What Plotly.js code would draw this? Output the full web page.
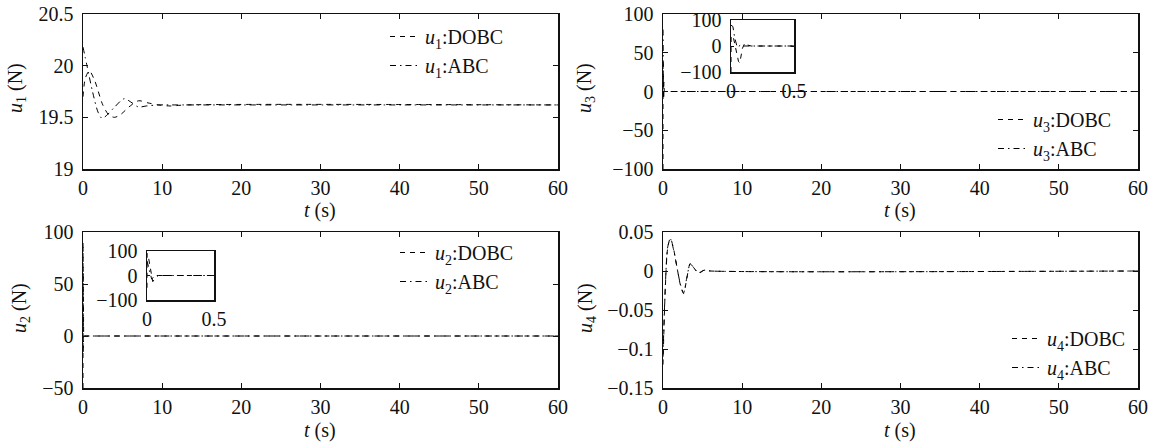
<!DOCTYPE html>
<html>
<head>
<meta charset="utf-8">
<script src="https://cdn.plot.ly/plotly-3.0.1.min.js"></script>
<style>html,body{margin:0;padding:0;background:#fff;}#chart{width:1158px;height:442px;}</style>
</head>
<body>
<div id="chart"></div>
<script>
// ---- data ----
const u1_dobc_t = [0, 0.3, 0.8, 1.5, 2.5, 3.3, 4.0, 4.8, 5.8, 7.0, 8.2, 9.5, 11, 13, 60];
const u1_dobc_v = [19.70, 19.88, 19.95, 19.85, 19.62, 19.52, 19.50, 19.53, 19.60, 19.66, 19.64, 19.62, 19.61, 19.62, 19.62];
const u1_abc_t  = [0, 0.5, 1.2, 1.9, 2.4, 3.0, 4.0, 5.2, 6.2, 7.0, 8.0, 9.5, 11, 60];
const u1_abc_v  = [20.18, 20.00, 19.75, 19.55, 19.49, 19.52, 19.60, 19.68, 19.64, 19.60, 19.61, 19.62, 19.62, 19.62];

const u3_dobc_t = [0, 0.001, 0.02, 0.04, 0.06, 0.07, 0.09, 0.11, 0.13, 0.16, 0.5, 60];
const u3_dobc_v = [-100, 40, 30, -20, -60, -65, -10, 12, 4, 0, 0, 0];
const u3_abc_t  = [0, 0.015, 0.03, 0.05, 0.08, 0.1, 0.5, 60];
const u3_abc_v  = [80, 75, 30, -5, 5, 0, 0, 0];

const u2_dobc_t = [0, 0.001, 0.01, 0.028, 0.043, 0.06, 0.085, 0.5, 60];
const u2_dobc_v = [-50, 90, 77, 22, -25, -12, 0, 0, 0];
const u2_abc_t  = [0, 0.01, 0.02, 0.035, 0.05, 0.07, 0.5, 60];
const u2_abc_v  = [60, 40, 10, -15, -5, 0, 0, 0];

const u4_dobc_t = [0, 0.3, 0.6, 0.93, 1.3, 1.85, 2.2, 2.6, 3.0, 3.45, 3.9, 4.5, 5.2, 6, 60];
const u4_dobc_v = [-0.12, -0.02, 0.03, 0.042, 0.03, 0, -0.018, -0.029, -0.01, 0.0098, 0.004, -0.003, 0.001, 0, 0];
const u4_abc_t  = [0, 0.3, 0.6, 0.93, 1.3, 1.85, 2.2, 2.6, 3.0, 3.45, 3.9, 4.5, 5.2, 6, 60];
const u4_abc_v  = [-0.11, -0.018, 0.031, 0.041, 0.029, 0, -0.017, -0.028, -0.009, 0.009, 0.004, -0.002, 0.001, 0, 0];

const xTicks = [0, 10, 20, 30, 40, 50, 60];
const insetXTicks = [0, 0.5];
const insetYTicks = [-100, 0, 100];

// ---- styling ----
const W = 1158, H = 442;
const FONT = 'Liberation Serif';
const px = x => x / W;
const py = y => 1 - y / H;
const DASH = '5px,5px';
const DASHDOT = '6px,4px,1.5px,4px';

function line(dash) { return {color: '#000', width: 1, dash: dash}; }

const traces = [];
function addPair(n, xa, ya, dt, dv, at, av, legendName, shape) {
  traces.push({x: dt, y: dv, xaxis: xa, yaxis: ya, mode: 'lines', line: Object.assign(line(DASH), {shape: shape, smoothing: 0.8}),
    name: '<i>u</i><sub>' + n + '</sub>:DOBC', legend: legendName, showlegend: !!legendName});
  traces.push({x: at, y: av, xaxis: xa, yaxis: ya, mode: 'lines', line: Object.assign(line(DASHDOT), {shape: shape, smoothing: 0.8}),
    name: '<i>u</i><sub>' + n + '</sub>:ABC', legend: legendName, showlegend: !!legendName});
}
addPair(1, 'x', 'y', u1_dobc_t, u1_dobc_v, u1_abc_t, u1_abc_v, 'legend', 'spline');
addPair(3, 'x2', 'y2', u3_dobc_t, u3_dobc_v, u3_abc_t, u3_abc_v, 'legend2', 'linear');
addPair(2, 'x3', 'y3', u2_dobc_t, u2_dobc_v, u2_abc_t, u2_abc_v, 'legend3', 'linear');
addPair(4, 'x4', 'y4', u4_dobc_t, u4_dobc_v, u4_abc_t, u4_abc_v, 'legend4', 'spline');
addPair(3, 'x5', 'y5', u3_dobc_t, u3_dobc_v, u3_abc_t, u3_abc_v, null, 'linear');
addPair(2, 'x6', 'y6', u2_dobc_t, u2_dobc_v, u2_abc_t, u2_abc_v, null, 'linear');

const tickFont = {family: FONT, size: 20, color: '#111'};
function xax(domain, anchor, range, ticks, len) {
  return {domain: domain, anchor: anchor, range: range, tickmode: 'array', tickvals: ticks,
    showline: true, linecolor: '#111', linewidth: 1.5, mirror: 'ticks', ticks: 'inside', ticklen: len, tickwidth: 1,
    tickcolor: '#111', showgrid: false, zeroline: false, tickfont: tickFont, fixedrange: true};
}
function yax(domain, anchor, range, dtick, len, vals) {
  const a = xax(domain, anchor, range, vals || [], len);
  if (!vals) { a.tickmode = 'linear'; a.tick0 = range[0]; a.dtick = dtick; delete a.tickvals; }
  a.ticklabelstandoff = 4;
  return a;
}

// plot boxes in pixels
const colL = [px(83), px(558)], colR = [px(663), px(1138)];
const rowT = [py(169), py(14)], rowB = [py(388), py(232)];

function legendAt(x, yTop) {
  return {x: px(x), y: py(yTop), xanchor: 'left', yanchor: 'top', bgcolor: 'rgba(0,0,0,0)', borderwidth: 0,
    font: {family: FONT, size: 20, color: '#111'}, itemwidth: 30};
}

const titleFont = {family: FONT, size: 20, color: '#111'};
function ytitle(n, x, y) {
  return {text: '<i>u</i><sub>' + n + '</sub> (N)', xref: 'paper', yref: 'paper', x: px(x), y: py(y),
    xanchor: 'center', yanchor: 'middle', textangle: -90, showarrow: false, font: titleFont};
}
function xtitle(x, y) {
  return {text: '<i>t</i> (s)', xref: 'paper', yref: 'paper', x: px(x), y: py(y),
    xanchor: 'center', yanchor: 'middle', showarrow: false, font: titleFont};
}

const layout = {
  width: W, height: H, margin: {l: 0, r: 0, t: 0, b: 0},
  paper_bgcolor: '#fff', plot_bgcolor: 'rgba(0,0,0,0)',
  font: {family: FONT, size: 20, color: '#111'},
  xaxis: xax(colL, 'y', [0, 60], xTicks, 5),
  yaxis: yax(rowT, 'x', [19, 20.5], 0.5, 5),
  xaxis2: xax(colR, 'y2', [0, 60], xTicks, 5),
  yaxis2: yax(rowT, 'x2', [-100, 100], 50, 5),
  xaxis3: xax(colL, 'y3', [0, 60], xTicks, 5),
  yaxis3: yax(rowB, 'x3', [-50, 100], 50, 5),
  xaxis4: xax(colR, 'y4', [0, 60], xTicks, 5),
  yaxis4: yax(rowB, 'x4', [-0.15, 0.05], 0.05, 5),
  xaxis5: xax([px(731), px(794)], 'y5', [0, 0.5], insetXTicks, 3),
  yaxis5: yax([py(72), py(20)], 'x5', [-100, 100], 100, 3, insetYTicks),
  xaxis6: xax([px(147), px(214)], 'y6', [0, 0.5], insetXTicks, 3),
  yaxis6: yax([py(300), py(251)], 'x6', [-100, 100], 100, 3, insetYTicks),
  legend: legendAt(385, 17),
  legend2: legendAt(993, 100),
  legend3: legendAt(395, 233),
  legend4: legendAt(1007, 319),
  showlegend: true,
  annotations: [
    ytitle(1, 17, 88), ytitle(3, 586, 88), ytitle(2, 20, 308), ytitle(4, 586, 308),
    xtitle(320, 210), xtitle(900, 210), xtitle(320, 430), xtitle(900, 430)
  ]
};

Plotly.newPlot('chart', traces, layout, {staticPlot: true, displayModeBar: false});
</script>
</body>
</html>
